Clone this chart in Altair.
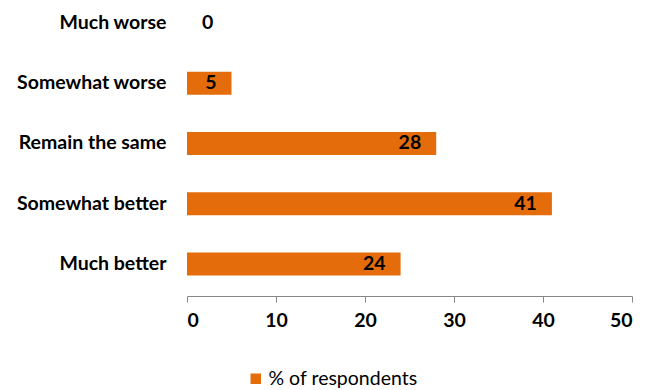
import altair as alt
import pandas as pd

# Survey responses, listed top to bottom
categories = ["Much worse", "Somewhat worse", "Remain the same", "Somewhat better", "Much better"]
values = [0, 5, 28, 41, 24]
series_name = "% of respondents"

df = pd.DataFrame({"category": categories, "value": values, "series": series_name})

FONT = "Lato"
ORANGE = "#E46C0A"
FS = 19.5

y_enc = alt.Y(
    "category:N",
    sort=categories,
    title=None,
    scale=alt.Scale(paddingInner=0.62, paddingOuter=0.224, align=0.24),
    axis=alt.Axis(ticks=False, domain=False, labelPadding=21, labelFont=FONT,
                  labelFontSize=FS, labelFontWeight="bold", labelColor="black"),
)
x_enc = alt.X(
    "value:Q",
    title=None,
    scale=alt.Scale(domain=[0, 50], nice=False),
    axis=alt.Axis(values=[0, 10, 20, 30, 40, 50], grid=False, domainColor="#868686",
                  tickColor="#868686", tickSize=6, labelFont=FONT, labelFontSize=FS,
                  labelFontWeight="bold", labelColor="black", labelPadding=9),
)

bars = alt.Chart(df).mark_bar(color=ORANGE).encode(
    y=y_enc,
    x=x_enc,
    color=alt.Color(
        "series:N",
        scale=alt.Scale(domain=[series_name], range=[ORANGE]),
        legend=alt.Legend(title=None, orient="none", legendX=59, legendY=364,
                          symbolType="square", symbolSize=110, symbolStrokeWidth=0,
                          labelFont=FONT, labelFontSize=FS, labelColor="black",
                          labelOffset=3),
    ),
)

labels_in = alt.Chart(df).transform_filter("datum.value > 0").mark_text(
    align="right", baseline="middle", dx=-15, font=FONT, fontSize=FS,
    fontWeight="bold", color="black",
).encode(y=alt.Y("category:N", sort=categories), x="value:Q", text="value:Q")

labels_zero = alt.Chart(df).transform_filter("datum.value == 0").mark_text(
    align="left", baseline="middle", dx=15, font=FONT, fontSize=FS,
    fontWeight="bold", color="black",
).encode(y=alt.Y("category:N", sort=categories), x="value:Q", text="value:Q")

chart = (
    alt.layer(bars, labels_in, labels_zero)
    .properties(
        width=445, height=291,
        autosize=alt.AutoSizeParams(type="none"),
        padding={"left": 187, "top": 5, "right": 22, "bottom": 94},
        background="white",
    )
    .configure_view(stroke=None)
)

chart.save("out.html", embed_options={"renderer": "svg", "actions": False})
